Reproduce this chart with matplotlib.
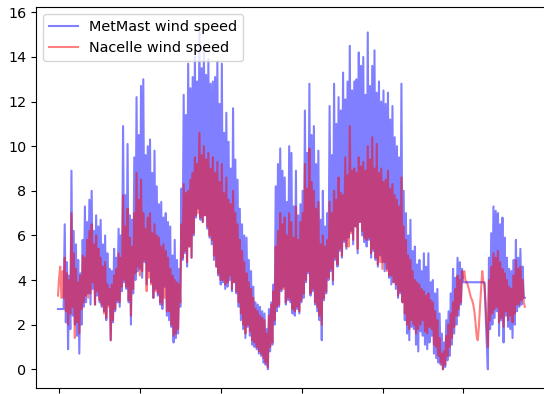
import numpy as np
import matplotlib
matplotlib.use('Agg')
import matplotlib.pyplot as plt

# wind speed samples, 20 min apart
metmast = [2.7, 2.7, 2.7, 2.7, 2.7, 2.7, 6.5, 2.1, 4.8, 0.9,
           4.2, 1.8, 8.9, 2.4, 6.2, 2.0, 5.6, 1.5, 4.9, 0.7,
           4.3, 2.0, 5.8, 2.8, 7.3, 3.0, 6.6, 3.4, 7.6, 2.9,
           8.0, 3.6, 6.2, 2.9, 6.9, 3.3, 6.4, 3.0, 6.7, 2.8,
           5.6, 2.6, 6.0, 2.2, 5.2, 2.9, 4.5, 1.3, 4.4, 2.1,
           5.4, 2.6, 5.0, 3.0, 6.3, 2.8, 6.0, 3.5, 10.9, 3.9,
           7.8, 3.6, 10.1, 3.0, 6.9, 2.0, 6.7, 3.4, 9.5, 4.0,
           12.2, 4.4, 10.5, 4.5, 12.7, 4.1, 13.0, 4.8, 9.6, 3.8,
           10.0, 4.4, 10.3, 3.9, 8.8, 3.2, 9.8, 3.6, 8.2, 3.3,
           7.4, 2.9, 7.5, 2.7, 6.8, 3.7, 7.0, 2.4, 6.6, 2.2,
           6.4, 1.9, 5.1, 1.2, 5.8, 1.4, 4.9, 1.6, 4.5, 2.8,
           8.1, 4.9, 12.3, 5.2, 11.4, 4.6, 13.7, 5.5, 12.6, 5.0,
           13.1, 6.0, 14.0, 6.8, 12.9, 7.2, 15.2, 6.7, 13.5, 6.6,
           14.4, 6.9, 13.2, 6.3, 13.9, 5.9, 12.8, 5.6, 12.9, 4.9,
           13.1, 4.6, 13.8, 4.2, 11.9, 3.8, 13.7, 3.9, 10.6, 3.6,
           11.5, 3.7, 10.2, 4.0, 9.0, 3.5, 11.7, 3.9, 9.4, 3.4,
           8.5, 2.8, 7.2, 2.2, 6.5, 1.8, 6.0, 1.4, 5.9, 1.9,
           4.9, 1.5, 4.4, 1.1, 3.7, 1.0, 3.0, 0.9, 2.9, 0.7,
           2.8, 0.6, 2.6, 0.3, 2.5, 0.2, 1.8, 0.0, 2.7, 0.8,
           3.0, 1.1, 3.8, 2.0, 8.2, 2.6, 9.2, 2.8, 9.9, 3.5,
           8.9, 3.7, 8.6, 2.9, 7.5, 3.1, 10.0, 3.0, 9.7, 2.5,
           7.3, 2.4, 8.9, 2.7, 6.9, 2.5, 7.4, 3.0, 8.0, 3.2,
           11.6, 3.9, 9.7, 4.3, 12.8, 3.3, 10.5, 3.5, 10.9, 2.9,
           9.2, 2.6, 9.8, 2.2, 6.7, 1.3, 8.0, 3.1, 6.4, 3.4,
           7.0, 4.0, 11.8, 4.4, 9.6, 3.8, 12.8, 4.9, 11.0, 4.6,
           12.2, 5.3, 11.6, 5.0, 13.3, 5.7, 12.1, 5.4, 12.9, 5.9,
           14.5, 6.2, 12.5, 5.6, 12.9, 6.4, 13.0, 5.2, 14.2, 6.6,
           13.6, 6.0, 14.0, 5.7, 12.3, 5.5, 15.1, 5.8, 12.7, 5.0,
           13.6, 5.3, 14.3, 4.9, 12.4, 4.6, 12.9, 5.1, 12.0, 4.8,
           12.5, 4.4, 11.9, 4.5, 12.4, 4.1, 11.2, 3.8, 11.8, 3.9,
           10.4, 3.6, 10.0, 3.2, 9.5, 3.4, 12.8, 3.0, 8.0, 2.2,
           7.0, 1.6, 6.0, 1.3, 6.7, 1.9, 5.3, 1.8, 5.5, 1.1,
           4.7, 0.8, 4.9, 1.7, 4.4, 1.5, 5.2, 1.1, 4.6, 0.9,
           5.2, 1.2, 3.9, 1.5, 4.0, 0.7, 3.4, 0.5, 3.6, 0.3,
           2.5, 0.2, 1.6, 0.0, 1.2, 0.1, 2.2, 0.4, 2.6, 0.6,
           3.4, 1.1, 4.5, 1.6, 4.1, 2.0, 5.0, 2.4, 4.8, 2.9,
           4.5, 3.9, 3.9, 3.9, 3.9, 3.9, 3.9, 3.9, 3.9, 3.9,
           3.9, 3.9, 3.9, 3.9, 3.9, 3.9, 3.9, 3.9, 3.9, 3.9,
           3.9, 2.5, 1.2, 0.0, 5.0, 1.8, 6.1, 2.0, 7.3, 2.3,
           7.1, 2.6, 7.0, 1.5, 6.5, 2.2, 6.8, 1.2, 5.9, 2.4,
           5.0, 1.9, 4.5, 1.8, 4.4, 1.4, 4.9, 2.0, 5.8, 2.6,
           5.0, 2.8, 5.4, 2.9, 4.6, 3.2,
           3.2]

nacelle = [3.3, 4.1, 4.6, 3.2, 4.4, 3.2, 5.0, 2.6, 4.3, 2.0,
           4.0, 2.5, 7.0, 2.8, 5.2, 1.4, 4.5, 2.1, 3.9, 1.6,
           4.2, 2.7, 5.1, 3.0, 5.0, 3.3, 5.8, 3.2, 6.2, 3.4,
           6.5, 3.9, 5.6, 2.9, 6.0, 3.5, 5.4, 3.1, 5.0, 2.9,
           4.6, 2.5, 4.8, 2.3, 3.8, 2.8, 3.6, 1.3, 3.8, 2.2,
           4.2, 2.7, 4.5, 3.1, 5.2, 3.0, 5.0, 3.7, 7.8, 4.0,
           6.4, 3.7, 7.2, 3.1, 5.9, 2.4, 5.5, 3.6, 7.0, 4.3,
           8.8, 4.6, 7.6, 4.2, 8.5, 4.4, 7.0, 4.9, 6.3, 3.5,
           6.8, 4.1, 7.0, 3.8, 6.1, 3.2, 6.5, 3.5, 6.0, 3.4,
           5.9, 3.0, 5.5, 2.9, 5.6, 3.2, 5.3, 2.6, 5.0, 2.6,
           4.5, 2.0, 4.2, 1.5, 4.0, 1.6, 3.9, 1.8, 3.8, 3.0,
           6.5, 5.0, 8.3, 5.3, 7.9, 4.8, 8.0, 5.5, 8.5, 5.0,
           8.8, 6.1, 9.5, 6.9, 9.2, 7.0, 10.6, 6.8, 9.6, 6.6,
           10.0, 6.9, 9.4, 6.4, 9.7, 6.0, 9.0, 5.8, 9.5, 5.1,
           8.8, 4.6, 9.3, 4.3, 8.4, 4.0, 9.2, 4.0, 7.9, 3.8,
           8.6, 3.9, 7.6, 4.2, 7.4, 3.6, 8.0, 3.9, 7.0, 3.5,
           6.5, 3.0, 5.8, 2.5, 5.3, 2.0, 4.8, 1.6, 4.3, 2.0,
           3.9, 1.7, 3.6, 1.3, 3.2, 1.2, 2.7, 1.0, 2.6, 0.8,
           2.4, 0.7, 2.3, 0.5, 2.2, 0.3, 1.6, 0.1, 2.4, 1.0,
           2.9, 1.2, 3.5, 2.2, 5.5, 2.8, 6.2, 2.9, 7.0, 3.6,
           6.5, 3.6, 6.8, 3.0, 6.0, 3.2, 7.0, 3.1, 6.6, 2.7,
           5.9, 2.6, 7.3, 2.8, 5.8, 2.6, 6.6, 3.1, 7.0, 3.4,
           9.2, 4.0, 8.1, 4.4, 9.9, 3.4, 8.4, 3.6, 8.0, 3.0,
           7.2, 2.8, 7.5, 2.4, 5.6, 2.0, 6.0, 3.2, 5.5, 3.5,
           5.8, 4.1, 7.5, 4.5, 7.0, 4.0, 8.0, 5.0, 7.6, 4.7,
           8.6, 5.4, 7.9, 5.1, 7.8, 5.8, 9.5, 5.5, 8.7, 5.5,
           10.9, 6.1, 8.9, 5.8, 9.0, 6.4, 8.8, 5.4, 9.5, 6.6,
           9.1, 6.2, 9.3, 5.9, 8.9, 5.8, 10.0, 5.9, 9.4, 5.2,
           10.4, 5.4, 9.0, 5.0, 10.1, 4.7, 8.8, 4.8, 9.0, 4.5,
           8.4, 4.8, 8.5, 4.4, 8.9, 4.2, 8.1, 4.2, 8.3, 3.9,
           7.8, 3.8, 7.6, 3.3, 7.3, 3.5, 8.6, 3.0, 6.4, 2.5,
           5.8, 2.0, 5.1, 1.8, 4.9, 2.2, 4.4, 2.0, 4.0, 1.6,
           3.9, 1.8, 3.8, 2.0, 3.6, 2.2, 3.5, 1.7, 3.3, 1.6,
           3.4, 1.9, 3.1, 1.8, 3.0, 1.1, 2.6, 1.0, 2.2, 0.6,
           1.4, 0.3, 0.7, 0.0, 0.8, 0.2, 1.5, 0.6, 2.0, 1.0,
           2.5, 1.4, 3.0, 1.9, 3.6, 2.4, 4.2, 2.7, 4.0, 3.0,
           4.4, 4.1, 4.4, 4.0, 3.9, 3.8, 3.6, 3.4, 3.2, 3.1,
           2.9, 2.6, 2.1, 1.5, 1.3, 1.9, 2.8, 3.6, 4.4, 3.9,
           3.8, 3.0, 2.0, 1.0, 4.0, 2.2, 4.6, 2.5, 5.2, 2.7,
           5.0, 2.8, 5.3, 2.1, 4.8, 2.3, 4.5, 1.9, 4.3, 2.6,
           4.0, 2.2, 3.7, 2.4, 3.6, 2.1, 4.2, 2.5, 4.9, 2.9,
           4.5, 2.9, 4.6, 3.1, 4.0, 3.0,
           2.8]

# time axis in days, one sample every 20 minutes
t = np.arange(len(metmast)) / 72.0 - 0.016

fig = plt.figure(figsize=(5.44, 3.94), dpi=100)
ax = fig.add_axes([36/544, 6/394, 510/544, 381/394])

ax.plot(t, metmast, color='blue', alpha=0.5, label='MetMast wind speed')
ax.plot(t, nacelle, color='red', alpha=0.5, label='Nacelle wind speed')

ax.set_xlim(-0.288, 6.023)
ax.set_ylim(-0.84, 16.24)
ax.set_xticks(range(0, 6))
ax.set_yticks(range(0, 17, 2))
ax.tick_params(labelbottom=False, labelsize=10.3)
ax.legend(loc='upper left', fontsize=10.4)

fig.savefig('out.png', dpi=100)
